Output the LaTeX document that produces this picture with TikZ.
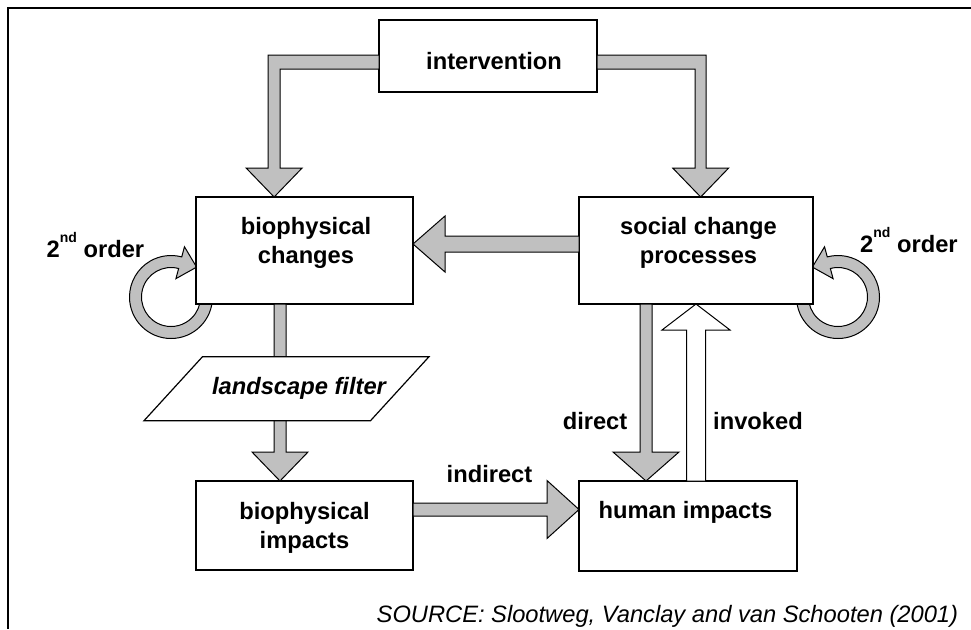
\documentclass[tikz,border=0pt]{standalone}
\usepackage{fontspec}
\setmainfont{Liberation Sans}
\usetikzlibrary{calc}
\pgfdeclarelayer{background}
\pgfsetlayers{background,main}
\definecolor{arrowgray}{RGB}{192,192,192}
% fat straight arrow: #1 style, #2 from, #3 to, #4 shaft half width, #5 head half width, #6 head length
\newcommand\fatarrow[6]{%
  \coordinate (faH) at ($(#3)!#6!(#2)$);
  \path[#1] ($(#2)!#4!90:(#3)$) -- ($(faH)!#4!90:(#3)$) -- ($(faH)!#5!90:(#3)$) -- (#3)
     -- ($(faH)!#5!-90:(#3)$) -- ($(faH)!#4!-90:(#3)$) -- ($(#2)!#4!-90:(#3)$) -- cycle;}
\begin{document}
\begin{tikzpicture}[x=1pt,y=-1pt,
  box/.style={draw, line width=1.2pt, fill=white, inner sep=0pt, outer sep=0pt, anchor=north west},
  boxtext/.style={font=\fontsize{23.7}{29.5}\selectfont\bfseries, align=center, inner sep=0pt},
  filtertext/.style={font=\fontsize{23.7}{29.5}\selectfont\bfseries\itshape, inner sep=0pt},
  sourcetext/.style={font=\fontsize{23.7}{28}\selectfont\itshape, inner sep=0pt},
  gray arrow/.style={draw, line width=1pt, fill=arrowgray, line join=miter},
  white arrow/.style={draw, line width=1pt, fill=white, line join=miter},
  filterbox/.style={draw, line width=1.2pt, fill=white, line join=miter},
  frameline/.style={draw, line width=2.2pt}]
\useasboundingbox (0,0) rectangle (971,629);
% frame
\coordinate (fr1) at (971,8);
\coordinate (fr2) at (8,8);
\coordinate (fr3) at (8,629);
\path[frameline] (fr1) -- (fr2) -- (fr3);

% boxes
\node[box, minimum width=218pt, minimum height=72pt]  (interv) at (379,20) {};
\node[box, minimum width=217pt, minimum height=107pt] (bc) at (196,197) {};
\node[box, minimum width=234pt, minimum height=107pt] (sc) at (579,197) {};
\node[box, minimum width=217pt, minimum height=89pt]  (bi) at (196,481) {};
\node[box, minimum width=218pt, minimum height=90pt]  (hi) at (579,481) {};

% second-order loops (behind the boxes)
\coordinate (rl) at ($(bc.west)+(-25,46.5)$);
\coordinate (rr) at ($(sc.east)+(25,46.5)$);
\begin{pgfonlayer}{background}
\path[gray arrow] ($(rl)+(0:41.5)$) arc[start angle=0, end angle=285, radius=41.5]
   -- ($(rl)+(285:52)$) -- ($(rl)+(285:35.5)+(15:17)$) -- ($(rl)+(285:19)$)
   -- ($(rl)+(285:29.5)$) arc[start angle=285, end angle=0, radius=29.5] -- cycle;
\path[gray arrow] ($(rr)+(180:41.5)$) arc[start angle=180, end angle=-105, radius=41.5]
   -- ($(rr)+(-105:52)$) -- ($(rr)+(-105:35.5)+(165:17)$) -- ($(rr)+(-105:19)$)
   -- ($(rr)+(-105:29.5)$) arc[start angle=-105, end angle=180, radius=29.5] -- cycle;
\end{pgfonlayer}

% elbow arrows from intervention
\coordinate (tipL) at ($(bc.north west)!0.36!(bc.north east)$);
\coordinate (tipR) at ($(sc.north west)!0.52!(sc.north east)$);
\path[gray arrow] let \p1=(interv.west), \p2=(tipL) in
  (\x1,{\y1+1pt}) -- ({\x2-6pt},{\y1+1pt}) -- ({\x2-6pt},{\y2+29pt}) -- ({\x2-28pt},{\y2+29pt})
  -- (\x2,\y2) -- ({\x2+28pt},{\y2+29pt}) -- ({\x2+6pt},{\y2+29pt}) -- ({\x2+6pt},{\y1-13pt})
  -- (\x1,{\y1-13pt}) -- cycle;
\path[gray arrow] let \p1=(interv.east), \p2=(tipR) in
  (\x1,{\y1+1pt}) -- ({\x2+5.5pt},{\y1+1pt}) -- ({\x2+5.5pt},{\y2+29pt}) -- ({\x2+28pt},{\y2+29pt})
  -- (\x2,\y2) -- ({\x2-28pt},{\y2+29pt}) -- ({\x2-5.5pt},{\y2+29pt}) -- ({\x2-5.5pt},{\y1-13pt})
  -- (\x1,{\y1-13pt}) -- cycle;

% straight arrows
\coordinate (a1) at ($(sc.west)+(0,-6.5)$);
\coordinate (b1) at (a1 -| bc.east);
\fatarrow{gray arrow}{a1}{b1}{8pt}{28pt}{32pt}
\coordinate (a2) at ($(bc.south west)+(84,0)$);
\coordinate (b2) at (a2 |- bi.north);
\fatarrow{gray arrow}{a2}{b2}{6pt}{28pt}{29pt}
\coordinate (a3) at ($(bi.east)+(0,-16)$);
\coordinate (b3) at (a3 -| hi.west);
\fatarrow{gray arrow}{a3}{b3}{6.5pt}{29pt}{32pt}
\coordinate (a4) at ($(sc.south west)+(67,0)$);
\coordinate (b4) at (a4 |- hi.north);
\fatarrow{gray arrow}{a4}{b4}{6pt}{33pt}{29pt}
\coordinate (a5) at ($(hi.north west)+(117,0)$);
\coordinate (b5) at (a5 |- sc.south);
\fatarrow{white arrow}{a5}{b5}{9.5pt}{34pt}{26pt}

% landscape filter
\path[filterbox] (202.5,356.7) -- (429,356.7) -- (370.5,420.7) -- (144,420.7) -- cycle;

% texts
\node[boxtext, anchor=base]  (tInt) at (494,69.5) {intervention};
\node[boxtext, anchor=north] (tBC) at (306,217) {biophysical\\changes};
\node[boxtext, anchor=north] (tSC) at (698.5,217) {social change\\processes};
\node[boxtext, anchor=north] (tBI) at (304.5,502) {biophysical\\impacts};
\node[boxtext, anchor=base]  (tHI) at (685.5,518) {human impacts};
\node[filtertext, anchor=base] (tLF) at (299,394.3) {landscape filter};
\node[boxtext, anchor=base west] (o1) at (46.5,257) {2\raisebox{15pt}{\fontsize{14}{14}\selectfont nd} order};
\node[boxtext, anchor=base west] (o2) at (860,252) {2\raisebox{15pt}{\fontsize{14}{14}\selectfont nd} order};
\node[boxtext, anchor=base east] (lDir) at (627.5,429.5) {direct};
\node[boxtext, anchor=base west] (lInv) at (713,429.5) {invoked};
\node[boxtext, anchor=base] (lInd) at (489.5,482) {indirect};
\node[sourcetext, anchor=base east] (src) at (958.3,622.5) {SOURCE: Slootweg, Vanclay and van Schooten (2001)};
\end{tikzpicture}
\end{document}
